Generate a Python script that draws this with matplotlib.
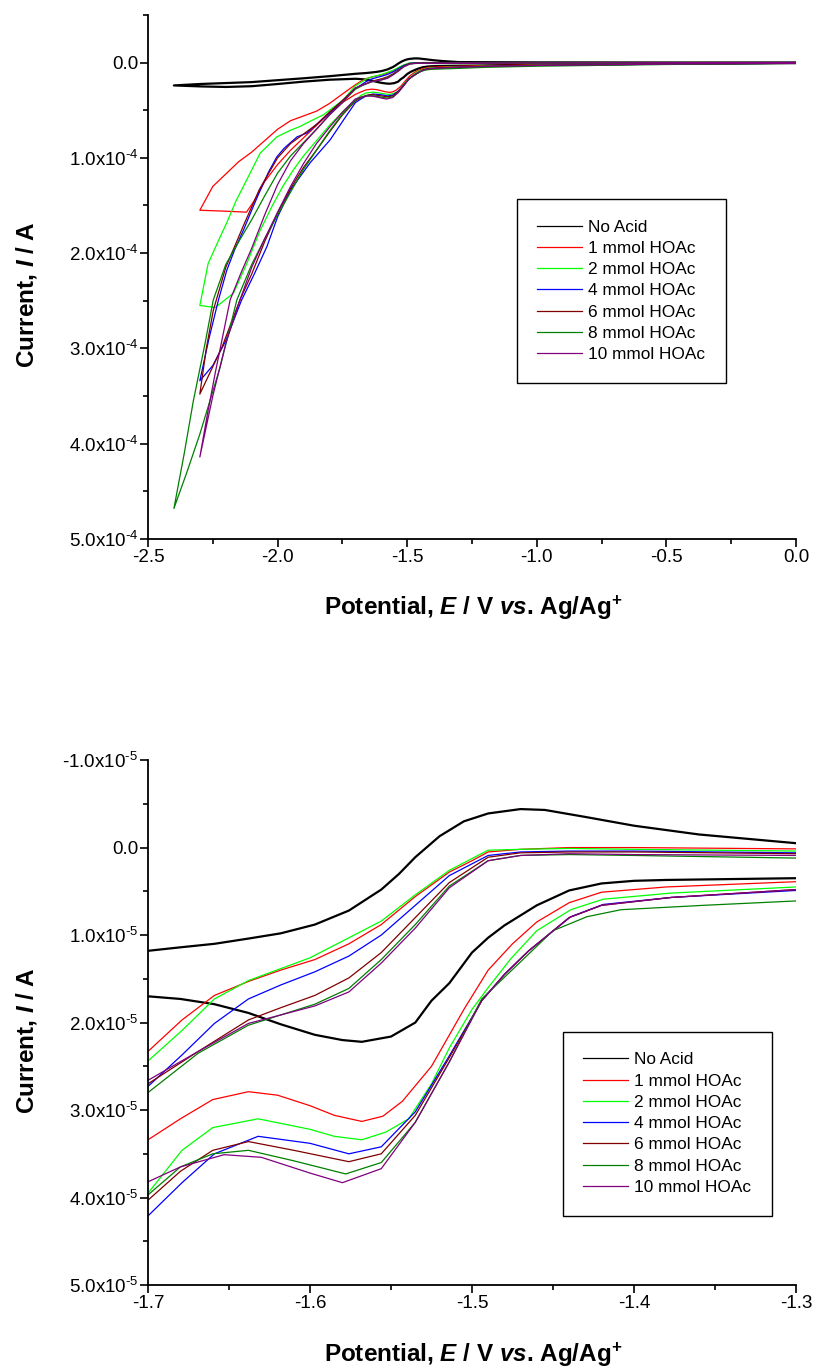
import matplotlib
matplotlib.use("Agg")
import numpy as np
import matplotlib.pyplot as plt
from matplotlib import font_manager
from matplotlib.ticker import MultipleLocator, FuncFormatter

# cyclic voltammograms, potential in V vs Ag/Ag+, current in microamps
# each list runs 0 V -> vertex (forward) then vertex -> 0 V (reverse)
no_acid_E = [0.0, -0.5, -1.0, -1.2, -1.3, -1.38, -1.40, -1.42, -1.44, -1.46, -1.48, -1.49, -1.50,
             -1.514, -1.525, -1.535, -1.55, -1.568, -1.58, -1.597, -1.618, -1.638, -1.659, -1.68,
             -1.70, -1.8, -1.9, -2.0, -2.1, -2.2, -2.3, -2.4,
             -2.3, -2.2, -2.1, -2.0, -1.9, -1.8, -1.7, -1.68, -1.659, -1.638, -1.618, -1.597,
             -1.576, -1.556, -1.545, -1.535, -1.52, -1.505, -1.49, -1.47, -1.455, -1.43, -1.40,
             -1.36, -1.3, -1.0, -0.5, 0.0]
no_acid_I = [0.6, 1.2, 2.2, 3.0, 3.5, 3.7, 3.8, 4.1, 4.9, 6.6, 8.9, 10.3, 12.0,
             15.5, 17.5, 20.0, 21.6, 22.2, 22.0, 21.4, 20.2, 18.9, 17.9, 17.3,
             17.0, 18.0, 20.0, 22.5, 24.8, 25.6, 25.0, 24.0,
             22.5, 21.5, 20.5, 18.5, 16.5, 14.3, 11.8, 11.4, 11.0, 10.4, 9.8, 8.8,
             7.2, 4.8, 3.0, 1.1, -1.3, -3.0, -3.9, -4.4, -4.3, -3.5, -2.5,
             -1.5, -0.5, -0.2, -0.1, 0.0]

acid1_E = [0.0, -0.5, -1.0, -1.2, -1.3, -1.38, -1.42, -1.44, -1.46, -1.475, -1.49, -1.505, -1.525,
           -1.543, -1.555, -1.568, -1.585, -1.60, -1.62, -1.638, -1.66, -1.68, -1.70, -1.75, -1.80,
           -1.85, -1.90, -1.95, -2.00, -2.05, -2.09, -2.12, -2.2, -2.3,
           -2.25, -2.2, -2.15, -2.1, -2.05, -2.0, -1.95, -1.9, -1.85, -1.8, -1.75, -1.70, -1.679,
           -1.659, -1.638, -1.618, -1.597, -1.576, -1.556, -1.535, -1.514, -1.50, -1.49, -1.47,
           -1.44, -1.40, -1.3, -1.0, -0.5, 0.0]
acid1_I = [0.6, 1.3, 2.4, 3.2, 3.9, 4.5, 5.1, 6.3, 8.5, 11.0, 14.0, 18.5, 25.0,
           29.0, 30.7, 31.3, 30.6, 29.5, 28.3, 27.9, 28.8, 31.0, 33.4, 42, 53,
           66, 79, 92, 107, 125, 145, 157, 156, 155,
           130, 117, 104, 94, 82, 70, 61, 56, 51, 43, 33, 23.3, 19.7,
           16.9, 15.3, 14.0, 12.8, 11.0, 8.8, 5.6, 2.8, 1.5, 0.5, 0.2,
           0.0, 0.0, 0.15, 0.1, 0.0, -0.1]

acid2_E = [0.0, -0.5, -1.0, -1.2, -1.3, -1.377, -1.419, -1.439, -1.46, -1.476, -1.49, -1.50, -1.514,
           -1.525, -1.539, -1.553, -1.568, -1.585, -1.60, -1.632, -1.66, -1.679, -1.70, -1.75,
           -1.80, -1.85, -1.90, -1.94, -1.98, -2.02, -2.067, -2.119, -2.17, -2.24, -2.3,
           -2.268, -2.23, -2.196, -2.16, -2.119, -2.067, -2.003, -1.95, -1.913, -1.87, -1.824,
           -1.785, -1.746, -1.70, -1.679, -1.659, -1.638, -1.60, -1.556, -1.535, -1.514, -1.49,
           -1.47, -1.44, -1.40, -1.3, -1.0, -0.5, 0.0]
acid2_I = [0.7, 1.5, 2.8, 3.8, 4.5, 5.2, 5.9, 7.1, 9.5, 12.7, 16.0, 18.5, 22.9,
           27.0, 31.0, 32.5, 33.4, 33.0, 32.2, 31.0, 32.0, 34.6, 39.5, 52,
           66, 82, 98, 113, 130, 150, 176, 211, 242, 257, 255,
           211, 188, 168, 145, 123, 95, 78, 71, 67, 61, 55,
           47, 39, 24.4, 20.9, 17.3, 15.2, 12.6, 8.4, 5.4, 2.6, 0.3,
           0.2, 0.1, 0.2, 0.4, 0.2, 0.0, -0.1]

acid4_E = [0.0, -0.5, -1.0, -1.2, -1.3, -1.377, -1.419, -1.439, -1.465, -1.48, -1.494, -1.514,
           -1.535, -1.556, -1.576, -1.60, -1.632, -1.659, -1.679, -1.70, -1.745, -1.797, -1.874,
           -1.951, -2.0, -2.041, -2.09, -2.14, -2.2, -2.25, -2.3,
           -2.265, -2.228, -2.196, -2.165, -2.132, -2.1, -2.067, -2.035, -2.003, -1.975, -1.95,
           -1.925, -1.887, -1.85, -1.8, -1.75, -1.70, -1.679, -1.659, -1.638, -1.618, -1.597,
           -1.576, -1.556, -1.535, -1.514, -1.49, -1.47, -1.44, -1.40, -1.3, -1.0, -0.5, 0.0]
acid4_I = [0.7, 1.6, 3.0, 4.1, 4.9, 5.7, 6.5, 7.9, 11.8, 14.5, 17.5, 23.8,
           30.2, 34.2, 35.0, 33.8, 33.0, 35.0, 38.3, 42.1, 60, 81, 105,
           134, 162, 193, 222, 250, 292, 318, 334,
           290, 249, 218, 196, 176, 155, 134, 115, 99, 90, 84,
           78, 74, 65, 53, 40, 27.3, 23.7, 20.1, 17.3, 15.7, 14.2,
           12.4, 10.0, 6.6, 3.2, 0.9, 0.5, 0.4, 0.4, 0.6, 0.3, 0.1, -0.1]

acid6_E = [0.0, -0.5, -1.0, -1.2, -1.3, -1.377, -1.42, -1.44, -1.465, -1.48, -1.494, -1.514,
           -1.535, -1.556, -1.576, -1.61, -1.638, -1.66, -1.68, -1.70, -1.75, -1.80, -1.85,
           -1.90, -1.95, -2.0, -2.05, -2.1, -2.145, -2.215, -2.3,
           -2.275, -2.248, -2.2, -2.13, -2.07, -2.0, -1.95, -1.9, -1.85, -1.8, -1.75, -1.70,
           -1.669, -1.638, -1.618, -1.597, -1.576, -1.556, -1.535, -1.514, -1.49, -1.47,
           -1.44, -1.40, -1.3, -1.0, -0.5, 0.0]
acid6_I = [0.7, 1.6, 3.0, 4.0, 4.8, 5.7, 6.6, 8.0, 11.8, 14.5, 17.5, 24.0,
           30.6, 35.0, 35.9, 34.6, 33.6, 34.6, 37.0, 40.3, 55, 73, 92,
           110, 132, 158, 188, 222, 249, 299, 348,
           300, 260, 215, 170, 133, 100, 85, 75, 65, 52, 40, 27.0,
           23.3, 19.7, 18.3, 16.9, 14.9, 12.0, 8.0, 4.0, 1.1, 0.6,
           0.5, 0.5, 0.7, 0.3, 0.1, -0.1]

acid8_E = [0.0, -0.5, -1.0, -1.2, -1.3, -1.357, -1.408, -1.429, -1.45, -1.468, -1.494, -1.514,
           -1.535, -1.556, -1.578, -1.61, -1.638, -1.66, -1.68, -1.70, -1.75, -1.80, -1.85,
           -1.90, -1.95, -2.0, -2.05, -2.1, -2.157, -2.222, -2.30, -2.35, -2.4,
           -2.36, -2.325, -2.28, -2.248, -2.2, -2.15, -2.1, -2.05, -2.0, -1.95, -1.9, -1.85,
           -1.8, -1.75, -1.70, -1.669, -1.638, -1.597, -1.576, -1.556, -1.535, -1.514, -1.49,
           -1.47, -1.44, -1.40, -1.3, -1.0, -0.5, 0.0]
acid8_I = [0.8, 2.0, 3.8, 5.0, 6.1, 6.6, 7.1, 7.9, 9.5, 12.7, 17.3, 24.5,
           31.4, 36.0, 37.3, 35.8, 34.6, 35.0, 36.5, 39.7, 54, 72, 92,
           112, 136, 160, 185, 212, 249, 320, 390, 430, 468,
           410, 355, 295, 249, 212, 188, 165, 140, 116, 98, 84, 70,
           55, 42, 28.0, 23.5, 20.3, 17.9, 16.1, 12.8, 8.8, 4.4, 1.5,
           0.9, 0.8, 0.9, 1.2, 0.5, 0.1, -0.1]

acid10_E = [0.0, -0.5, -1.0, -1.2, -1.3, -1.377, -1.42, -1.44, -1.465, -1.48, -1.494, -1.514,
            -1.535, -1.556, -1.58, -1.60, -1.63, -1.653, -1.68, -1.70, -1.75, -1.80, -1.85,
            -1.90, -1.95, -2.0, -2.05, -2.1, -2.145, -2.2, -2.25, -2.3,
            -2.27, -2.24, -2.21, -2.183, -2.14, -2.1, -2.05, -2.0, -1.95, -1.9, -1.85, -1.8,
            -1.75, -1.70, -1.669, -1.638, -1.597, -1.576, -1.556, -1.535, -1.514, -1.49, -1.47,
            -1.44, -1.40, -1.3, -1.0, -0.5, 0.0]
acid10_I = [0.7, 1.6, 3.0, 4.0, 4.8, 5.7, 6.6, 8.0, 11.8, 14.5, 17.5, 24.5,
            31.4, 36.7, 38.3, 37.2, 35.4, 35.1, 36.5, 38.2, 52, 68, 85,
            106, 130, 157, 185, 215, 249, 295, 350, 414,
            368, 325, 285, 249, 220, 195, 160, 128, 103, 85, 70, 55,
            42, 26.6, 23.3, 20.1, 18.1, 16.5, 13.2, 9.2, 4.6, 1.5, 0.9,
            0.7, 0.8, 0.9, 0.4, 0.1, -0.1]

labels = ["No Acid", "1 mmol HOAc", "2 mmol HOAc", "4 mmol HOAc",
          "6 mmol HOAc", "8 mmol HOAc", "10 mmol HOAc"]
colors = ["#000000", "#ff0000", "#00ff00", "#0000ff", "#800000", "#008000", "#800080"]
potentials = [no_acid_E, acid1_E, acid2_E, acid4_E, acid6_E, acid8_E, acid10_E]
currents = [no_acid_I, acid1_I, acid2_I, acid4_I, acid6_I, acid8_I, acid10_I]

names = {f.name for f in font_manager.fontManager.ttflist}
if "Liberation Sans Narrow" in names:
    label_family, label_size = "Liberation Sans Narrow", 21
else:
    label_family, label_size = "Liberation Sans", 17.5

plt.rcParams["font.family"] = "Liberation Sans"
plt.rcParams["axes.unicode_minus"] = False
plt.rcParams["mathtext.fontset"] = "custom"
plt.rcParams["mathtext.rm"] = "Liberation Sans"
plt.rcParams["mathtext.it"] = label_family + ":italic:bold"
plt.rcParams["mathtext.bf"] = label_family + ":bold"


def sci_formatter(exp):
    def fmt(v, pos):
        if abs(v) < 10.0 ** (exp - 3):
            return "0.0"
        return r"%.1fx10$^{\text{-%d}}$" % (v / 10.0 ** exp, -exp)
    return FuncFormatter(fmt)


fig = plt.figure(figsize=(8.19, 13.7), dpi=100)
ax1 = fig.add_axes([0.1807, 0.6066, 0.7912, 0.3825])
ax2 = fig.add_axes([0.1807, 0.0620, 0.7912, 0.3832])

for ax in (ax1, ax2):
    for lab, col, E, I in zip(labels, colors, potentials, currents):
        lw = 1.6 if col == "#000000" else 0.9
        ax.plot(E, np.array(I) * 1e-6, color=col, lw=lw, label=lab)

ax1.set_xlim(-2.5, 0.0)
ax1.set_ylim(5e-4, -0.5e-4)
ax1.xaxis.set_major_locator(MultipleLocator(0.5))
ax1.xaxis.set_minor_locator(MultipleLocator(0.25))
ax1.yaxis.set_major_locator(MultipleLocator(1e-4))
ax1.yaxis.set_minor_locator(MultipleLocator(0.5e-4))
ax1.yaxis.set_major_formatter(sci_formatter(-4))

ax2.set_xlim(-1.7, -1.3)
ax2.set_ylim(5e-5, -1e-5)
ax2.xaxis.set_major_locator(MultipleLocator(0.1))
ax2.xaxis.set_minor_locator(MultipleLocator(0.05))
ax2.yaxis.set_major_locator(MultipleLocator(1e-5))
ax2.yaxis.set_minor_locator(MultipleLocator(0.5e-5))
ax2.yaxis.set_major_formatter(sci_formatter(-5))

xlabel = r"Potential, $\mathit{E}$ / V $\mathit{vs}$. Ag/Ag$^{\mathbf{+}}$"
ylabel = r"Current, $\mathit{I}$ / A"

legend_pos = [(0.569, 0.649), (0.640, 0.4825)]
for ax, lpos in zip((ax1, ax2), legend_pos):
    ax.xaxis.set_major_formatter(FuncFormatter(lambda v, p: "%.1f" % v))
    for side in ("top", "right"):
        ax.spines[side].set_visible(False)
    for side in ("left", "bottom"):
        ax.spines[side].set_linewidth(1.3)
    ax.tick_params(which="major", direction="out", length=5.5, width=1.2, labelsize=13.5, pad=1.5)
    ax.tick_params(which="minor", direction="out", length=3.5, width=1.2)
    ax.set_xlabel(xlabel, fontfamily=label_family, fontweight="bold", fontsize=label_size)
    ax.set_ylabel(ylabel, fontfamily=label_family, fontweight="bold", fontsize=label_size)
    ax.xaxis.set_label_coords(0.502, -0.132)
    ax.xaxis.label.set_va("center")
    ax.yaxis.set_label_coords(-0.188, 0.466)
    ax.yaxis.label.set_va("center")
    leg = ax.legend(loc="upper left", bbox_to_anchor=lpos, borderaxespad=0,
                    prop={"family": "Liberation Sans", "size": 12.4},
                    borderpad=1.2, handlelength=2.6, handletextpad=0.35,
                    labelspacing=0.36, fancybox=False, framealpha=1, edgecolor="black")
    leg.get_frame().set_linewidth(1.0)
    for line in leg.get_lines():
        line.set_linewidth(0.9)

fig.savefig("out.png", dpi=100)
